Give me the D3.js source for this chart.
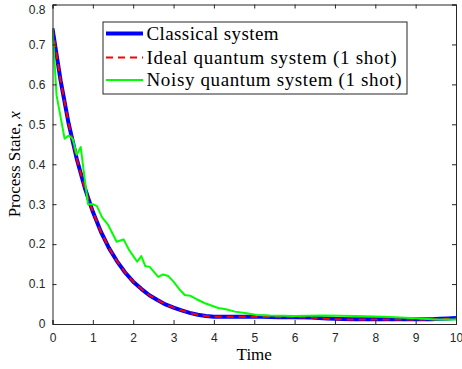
<!DOCTYPE html>
<html><head><meta charset="utf-8">
<script src="https://cdn.jsdelivr.net/npm/d3@7"></script>
<style>body{margin:0;background:#fff}svg{display:block}</style>
</head><body>
<svg id="c" width="462" height="369"></svg>
<script>
const xTicks = [0,1,2,3,4,5,6,7,8,9,10];
const yTicks = [0,0.1,0.2,0.3,0.4,0.5,0.6,0.7,0.8];
const yTickLabels = ["0","0.1","0.2","0.3","0.4","0.5","0.6","0.7","0.8"];
const seriesNames = ["Classical system","Ideal quantum system (1 shot)","Noisy quantum system (1 shot)"];

const tClassical = [0,0.2,0.4,0.6,0.8,1.0,1.2,1.4,1.6,1.8,2.0,2.2,2.4,2.6,2.8,3.0,3.2,3.4,3.6,3.8,4.0,4.4,4.8,5.2,5.6,6.0,6.4,6.8,7.0,7.4,7.8,8.2,8.6,9.0,9.4,9.6,9.8,10.0];
const classical  = [0.740,0.610,0.502,0.414,0.341,0.281,0.231,0.190,0.157,0.129,0.106,0.088,0.072,0.060,0.049,0.041,0.034,0.028,0.023,0.020,0.018,0.018,0.018,0.018,0.017,0.017,0.016,0.014,0.013,0.012,0.012,0.012,0.012,0.012,0.012,0.013,0.014,0.015];
const ideal      = [0.740,0.610,0.502,0.414,0.341,0.281,0.231,0.190,0.157,0.129,0.106,0.088,0.072,0.060,0.049,0.041,0.034,0.028,0.023,0.020,0.018,0.018,0.018,0.018,0.017,0.017,0.016,0.013,0.012,0.011,0.011,0.011,0.011,0.011,0.011,0.012,0.013,0.014];

const tNoisy = [0,0.1,0.3,0.4,0.5,0.6,0.7,0.77,0.88,1.0,1.1,1.23,1.38,1.59,1.76,1.9,2.1,2.2,2.3,2.41,2.62,2.74,2.87,3.0,3.16,3.28,3.41,3.57,3.78,4.11,4.3,4.52,4.81,5.06,5.38,6.0,6.7,7.5,8.2,9.0,9.5,10.0];
const noisy  = [0.740,0.573,0.464,0.472,0.464,0.424,0.443,0.385,0.300,0.300,0.295,0.267,0.248,0.206,0.212,0.185,0.156,0.170,0.145,0.143,0.118,0.124,0.120,0.106,0.085,0.0725,0.071,0.062,0.052,0.040,0.037,0.031,0.027,0.0225,0.021,0.020,0.021,0.020,0.018,0.0145,0.011,0.011];

const svg = d3.select("#c");
const L = 52.5, R = 456, T = 4.5, B = 324;
const x = d3.scaleLinear().domain([0,10]).range([L,R]);
const y = d3.scaleLinear().domain([0,0.8]).range([B,T]);
const axc = "#262626";

svg.append("clipPath").attr("id","clip").append("rect").attr("x",L).attr("y",T).attr("width",R-L).attr("height",B-T);

const line = d3.line().x(d=>x(d[0])).y(d=>y(d[1]));
const plot = svg.append("g").attr("clip-path","url(#clip)");
plot.append("path").datum(tClassical.map((t,i)=>[t,classical[i]]))
  .attr("d",line).attr("fill","none").attr("stroke","#0000ff").attr("stroke-width",4).attr("stroke-linejoin","round");
plot.append("path").datum(tClassical.map((t,i)=>[t,ideal[i]]))
  .attr("d",line).attr("fill","none").attr("stroke","#ff0000").attr("stroke-width",2).attr("stroke-dasharray","7,5");
plot.append("path").datum(tNoisy.map((t,i)=>[t,noisy[i]]))
  .attr("d",line).attr("fill","none").attr("stroke","#00ff00").attr("stroke-width",2).attr("stroke-linejoin","round");

const fontTick = "'Liberation Sans', Arial, sans-serif";
const gx = svg.append("g").attr("transform",`translate(0,${B})`)
  .call(d3.axisBottom(x).tickValues(xTicks).tickSize(-4).tickPadding(9).tickFormat(d3.format("d")));
const gx2 = svg.append("g").attr("transform",`translate(0,${T})`)
  .call(d3.axisTop(x).tickValues(xTicks).tickSize(-4).tickFormat(""));
const gy = svg.append("g").attr("transform",`translate(${L},0)`)
  .call(d3.axisLeft(y).tickValues(yTicks).tickSize(-4).tickPadding(7).tickFormat((d,i)=>yTickLabels[i]));
const gy2 = svg.append("g").attr("transform",`translate(${R},0)`)
  .call(d3.axisRight(y).tickValues(yTicks).tickSize(-4).tickFormat(""));
[gx,gx2,gy,gy2].forEach(g=>{
  g.select(".domain").attr("stroke",axc).attr("stroke-width",1);
  g.selectAll(".tick line").attr("stroke",axc).attr("stroke-width",1);
  g.selectAll("text").attr("fill",axc).style("font-family",fontTick).style("font-size","12px");
});
gy.selectAll(".tick text").filter(d=>d===0.8).attr("dy","0.75em").attr("y",-0.5);

const serif = "'Liberation Serif','DejaVu Serif',serif";
svg.append("text").attr("x",(L+R)/2).attr("y",360).attr("text-anchor","middle")
  .style("font-family",serif).style("font-size","17px").attr("fill","#000").text("Time");
const yl = svg.append("text").attr("transform",`translate(20,${(T+B)/2}) rotate(-90)`).attr("text-anchor","middle")
  .style("font-family",serif).style("font-size","17px").attr("fill","#000");
yl.append("tspan").text("Process State, ");
yl.append("tspan").style("font-style","italic").text("x");

const lg = svg.append("g");
lg.append("rect").attr("x",103).attr("y",22).attr("width",304).attr("height",72)
  .attr("fill","#fff").attr("stroke",axc).attr("stroke-width",1);
const legStyles = [
  {c:"#0000ff",w:4,d:null},
  {c:"#ff0000",w:2,d:"7,5"},
  {c:"#00ff00",w:2,d:null}
];
const rowY = [33.5,57.5,80];
const legLen = [132,250,255];
seriesNames.forEach((n,i)=>{
  lg.append("line").attr("x1",106).attr("x2",143).attr("y1",rowY[i]).attr("y2",rowY[i])
    .attr("stroke",legStyles[i].c).attr("stroke-width",legStyles[i].w).attr("stroke-dasharray",legStyles[i].d);
  lg.append("text").attr("x",146.5).attr("y",rowY[i]+6).style("font-family",serif).style("font-size","19px")
    .attr("fill","#000").attr("textLength",legLen[i]).attr("lengthAdjust","spacing").text(n);
});
</script>
</body></html>
